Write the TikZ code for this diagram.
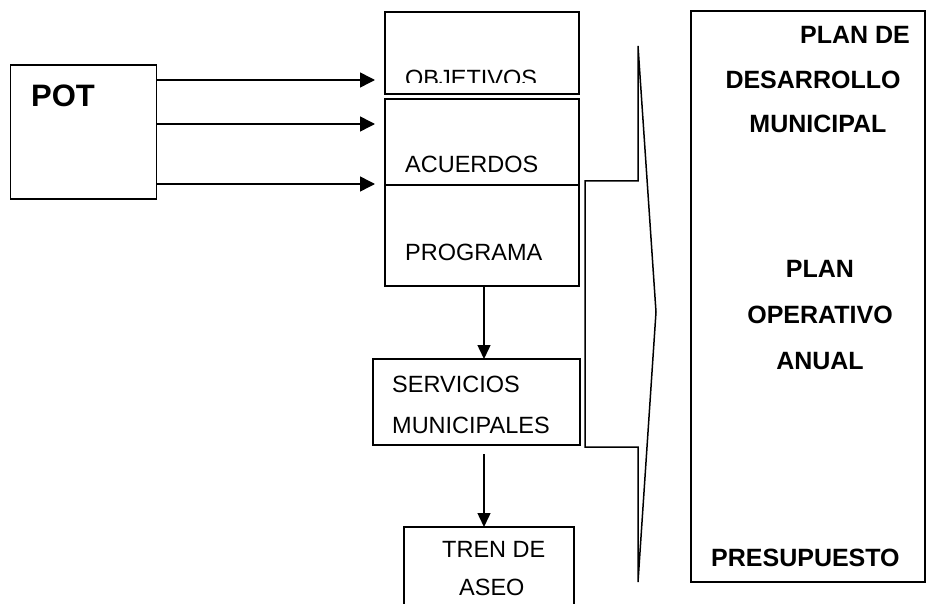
\documentclass[tikz,border=0pt]{standalone}
\usepackage{fontspec}
\setmainfont{Liberation Sans}
\usetikzlibrary{arrows.meta}
\tikzset{
  boxnode/.style={draw, line width=1.5pt, rectangle, inner sep=0pt, outer sep=0pt},
  arr/.style={line width=1.5pt, -{Triangle[length=15pt,width=15pt]}},
  varr/.style={line width=1.5pt, -{Triangle[length=14pt,width=13pt]}},
  txt/.style={inner sep=0pt, anchor=base west, font=\fontsize{23.5}{28}\selectfont},
  btxt/.style={inner sep=0pt, anchor=base, font=\fontsize{25}{30}\selectfont\bfseries},
}
\begin{document}
\begin{tikzpicture}[x=1pt,y=-1pt]
\useasboundingbox (0,0) rectangle (934,604);
\clip (0,0) rectangle (934,604);
% boxes
\node[boxnode, minimum width=146pt, minimum height=134pt] (pot) at (83.5,132) {};
\node[boxnode, minimum width=194pt, minimum height=82pt] (obj) at (482,53) {};
\node[boxnode, minimum width=194pt, minimum height=86pt] (acu) at (482,142) {};
\node[boxnode, minimum width=194pt, minimum height=101pt] (prog) at (482,235.5) {};
\node[boxnode, minimum width=207pt, minimum height=86pt] (serv) at (476.5,402) {};
\node[boxnode, minimum width=170pt, minimum height=100pt] (tren) at (489,577) {};
\node[boxnode, minimum width=234pt, minimum height=571pt] (pdm) at (808,296.5) {};
% texts
\node[inner sep=0pt, anchor=base west, font=\fontsize{31}{36}\selectfont\bfseries] (tpot) at (31,107) {POT};
\begin{scope}
\clip (385,12) rectangle (579,83);
\node[txt] (tobj) at (405,87) {OBJETIVOS};
\end{scope}
\node[txt] (tacu) at (405,173) {ACUERDOS};
\node[txt] (tprog) at (405,260) {PROGRAMA};
\node[txt] (tserv1) at (392,392) {SERVICIOS};
\node[txt] (tserv2) at (392,433) {MUNICIPALES};
\node[txt] (ttren1) at (442,557) {TREN DE};
\node[txt] (ttren2) at (459,595) {ASEO};
\node[btxt] (p1) at (855,44) {PLAN DE};
\node[btxt] (p2) at (813,89) {DESARROLLO};
\node[btxt] (p3) at (818,133) {MUNICIPAL};
\node[btxt] (p4) at (820,277) {PLAN};
\node[btxt] (p5) at (820,323) {OPERATIVO};
\node[btxt] (p6) at (820,369) {ANUAL};
\node[inner sep=0pt, anchor=base west, font=\fontsize{25}{30}\selectfont\bfseries] (p7) at (711,566) {PRESUPUESTO};
% arrows
\draw[arr] (pot.east |- 0,80) -- ([xshift=-10pt]obj.west |- 0,80);
\draw[arr] (pot.east |- 0,124) -- ([xshift=-10pt]acu.west |- 0,124);
\draw[arr] (pot.east |- 0,184) -- ([xshift=-10pt]acu.west |- 0,184);
\draw[varr] (484,286) coordinate (ps) -- (serv.north -| ps);
\draw[varr] ([yshift=-9pt]serv.south -| ps) -- (tren.north -| ps);
% chevron bracket
\coordinate (c1) at (638,46);
\coordinate (c2) at (656,312);
\coordinate (c3) at (638,582);
\draw[line width=1.5pt, line join=miter] (c1) -- (c2) -- (c3) -- (638,447) -- (585,447) -- (585,181) -- (638,181) -- cycle;
\end{tikzpicture}
\end{document}
